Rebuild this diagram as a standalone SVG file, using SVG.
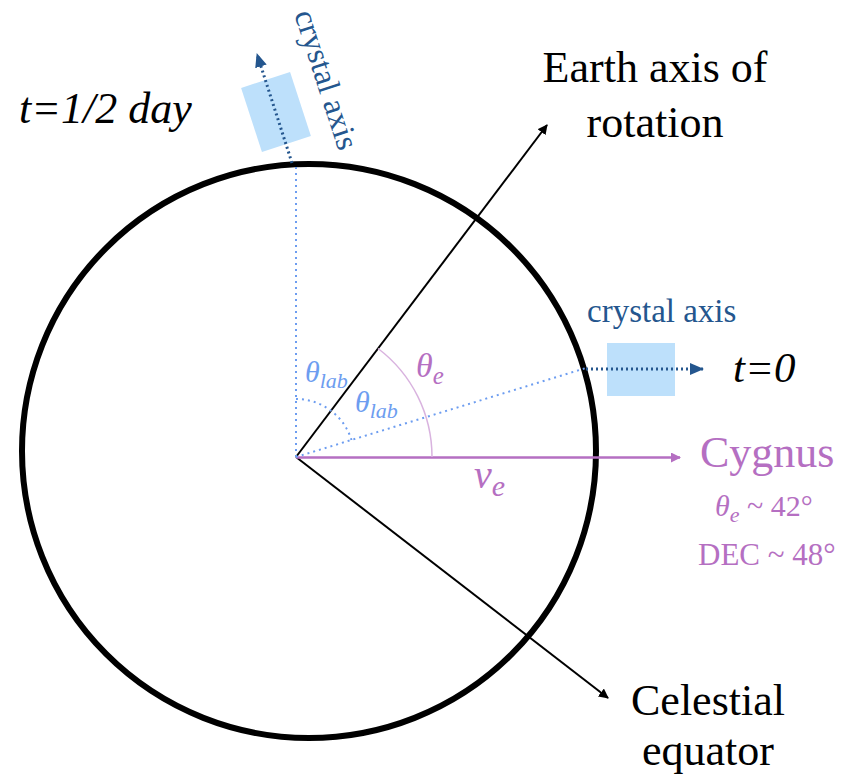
<svg xmlns="http://www.w3.org/2000/svg" width="841" height="775" viewBox="0 0 841 775">
<style>
.serif{font-family:"Liberation Serif","Times New Roman",serif}
.blk{fill:#000}
.purp{fill:#b56fc2}
.lb{fill:#6d9df0}
.db{fill:#24568e}
.ax{stroke:#000;stroke-width:2;fill:none}
.ldot{stroke:#6d9df0;stroke-width:2;stroke-dasharray:2 4;fill:none}
.ddot{stroke:#24568e;stroke-width:3;stroke-dasharray:2 3;fill:none}
</style>
<defs>
<marker id="ab" markerWidth="10" markerHeight="10" refX="9" refY="5" orient="auto" markerUnits="userSpaceOnUse" viewBox="0 0 10 10"><path d="M0,0 L10,5 L0,10 z" fill="#000"/></marker>
<marker id="ap" markerWidth="10" markerHeight="10" refX="9" refY="5" orient="auto" markerUnits="userSpaceOnUse" viewBox="0 0 10 10"><path d="M0,0 L10,5 L0,10 z" fill="#b56fc2"/></marker>
<marker id="ad" markerWidth="14" markerHeight="14" refX="13" refY="7" orient="auto" markerUnits="userSpaceOnUse" viewBox="0 0 14 14"><path d="M0,1 L14,7 L0,13 z" fill="#24568e"/></marker>
</defs>
<g id="earth"><circle cx="309" cy="451" r="287" fill="none" stroke="#000" stroke-width="6"/></g>
<g id="crystal-top"><rect x="-25.75" y="-33.7" width="51.5" height="67.4" fill="#bde0fb" transform="translate(276,112) rotate(-18)"/></g>
<g id="crystal-right"><rect x="607" y="343" width="68" height="53" fill="#bde0fb"/></g>
<g id="connectors">
<line class="ax" x1="296" y1="457" x2="547" y2="125" marker-end="url(#ab)"/>
<line class="ax" x1="296" y1="457" x2="608" y2="698" marker-end="url(#ab)"/>
<line x1="296" y1="457.5" x2="680" y2="457.5" stroke="#b56fc2" stroke-width="2.5" marker-end="url(#ap)"/>
<path d="M432,457 A136,136 0 0 0 378,348.5" fill="none" stroke="#d9b3df" stroke-width="1.5"/>
<line class="ldot" x1="296" y1="457" x2="296" y2="165"/>
<line class="ldot" x1="296" y1="457" x2="586" y2="368"/>
<path class="ldot" d="M296,399 A58,58 0 0 1 351.5,440"/>
<line class="ddot" x1="292" y1="163" x2="257" y2="54" marker-end="url(#ad)"/>
<line class="ddot" x1="586" y1="369" x2="703" y2="369" marker-end="url(#ad)"/>
</g>
<g id="labels">
<text class="serif blk" x="19" y="123" font-size="44" font-style="italic">t=1/2 day</text>
<text class="serif db" x="0" y="0" font-size="32" transform="translate(294,14) rotate(72)">crystal axis</text>
<text class="serif blk" x="655" y="82" font-size="44" text-anchor="middle">Earth axis of</text>
<text class="serif blk" x="655" y="137" font-size="44" text-anchor="middle">rotation</text>
<text class="serif db" x="587" y="322" font-size="33">crystal axis</text>
<text class="serif blk" x="733" y="382" font-size="43" font-style="italic">t=0</text>
<text class="serif purp" x="416" y="377" font-size="34" font-style="italic">θ<tspan font-size="25" dy="7">e</tspan></text>
<text class="serif lb" x="305" y="382" font-size="30" font-style="italic">θ<tspan font-size="22" dy="6">lab</tspan></text>
<text class="serif lb" x="355" y="412" font-size="30" font-style="italic">θ<tspan font-size="22" dy="6">lab</tspan></text>
<text class="serif purp" x="474" y="488" font-size="40" font-style="italic">v<tspan font-size="30" dy="8">e</tspan></text>
<text class="serif purp" x="700" y="467" font-size="44">Cygnus</text>
<text class="serif purp" x="715" y="516" font-size="30"><tspan font-style="italic">θ<tspan font-size="22" dy="6">e</tspan></tspan><tspan dy="-6"> ~ 42°</tspan></text>
<text class="serif purp" x="698" y="565" font-size="31">DEC ~ 48°</text>
<text class="serif blk" x="708" y="715" font-size="44" text-anchor="middle">Celestial</text>
<text class="serif blk" x="708" y="765" font-size="44" text-anchor="middle">equator</text>
</g>
</svg>
